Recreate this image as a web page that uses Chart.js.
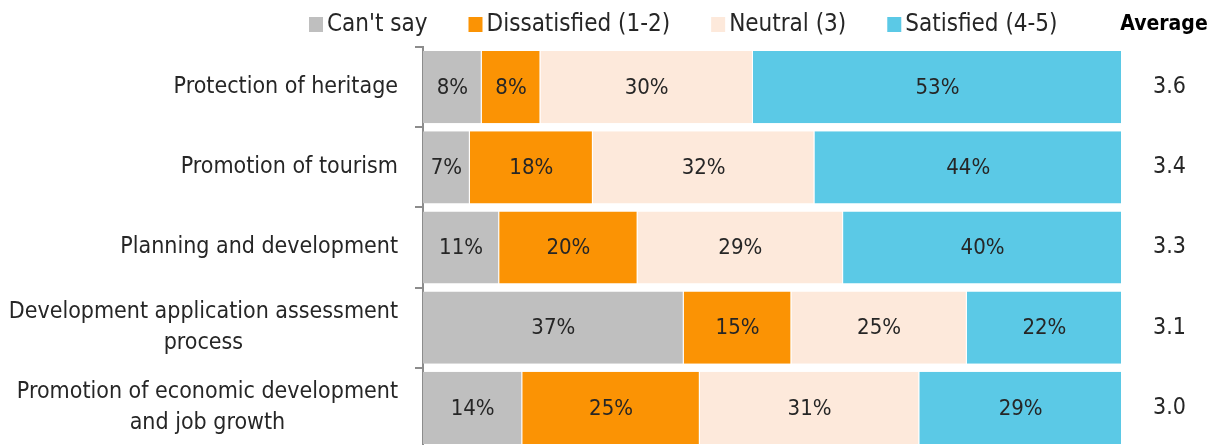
<!DOCTYPE html>
<html>
<head>
<meta charset="utf-8">
<script src="https://cdn.jsdelivr.net/npm/chart.js@4/dist/chart.umd.min.js"></script>
<style>
    html, body { margin: 0; padding: 0; background: #fff; overflow: hidden; }
    canvas { display: block; }
</style>
</head>
<body>
<canvas id="grafico" width="1227" height="448"></canvas>
<script>
const categorias = [
    "Protection of heritage",
    "Promotion of tourism",
    "Planning and development",
    ["Development application assessment", "process"],
    ["Promotion of economic development", "and job growth"]
];
const cantSay = [8.4, 6.7, 10.9, 37.3, 14.2];
const dissatisfied = [8.4, 17.6, 19.8, 15.4, 25.4];
const neutral = [30.4, 31.7, 29.4, 25.1, 31.4];
const satisfied = [52.8, 44.0, 39.9, 22.2, 29.0];
const promedios = [3.6, 3.4, 3.3, 3.1, 3.0];

const FUENTE = "'DejaVu Sans Condensed', sans-serif";
const TEXTO = "#262626";

// porcentajes, etiquetas del eje, leyenda y titulo "Average"
const extras = {
    id: "extras",
    afterDatasetsDraw(chart) {
        const ctx = chart.ctx;
        ctx.save();
        ctx.fillStyle = TEXTO;
        ctx.textBaseline = "middle";
        ctx.textAlign = "center";
        ctx.font = "22px " + FUENTE;

        chart.data.datasets.forEach((ds, i) => {
            const meta = chart.getDatasetMeta(i);
            meta.data.forEach((bar, j) => {
                const p = bar.getProps(["x", "y", "base"], true);
                ctx.fillText(Math.round(ds.data[j]) + "%", (p.x + p.base) / 2, p.y + 1);
            });
        });

        // bloque alineado a la derecha, lineas centradas
        ctx.font = "23px " + FUENTE;
        const escalaY = chart.scales.y;
        const derecha = chart.chartArea.left - 25;
        categorias.forEach((cat, j) => {
            const lineas = Array.isArray(cat) ? cat : [cat];
            const ancho = Math.max(...lineas.map(l => ctx.measureText(l).width));
            const cx = derecha - ancho / 2;
            const cy = escalaY.getPixelForValue(j);
            lineas.forEach((l, k) => {
                ctx.fillText(l, cx, cy + (k - (lineas.length - 1) / 2) * 31);
            });
        });

        ctx.font = "24px " + FUENTE;
        let x = 309;
        const ly = 25;
        ctx.textAlign = "left";
        chart.data.datasets.forEach(ds => {
            ctx.fillStyle = ds.backgroundColor;
            ctx.fillRect(x, ly - 8, 14, 15);
            ctx.fillStyle = TEXTO;
            ctx.fillText(ds.label, x + 18, ly);
            x += 18 + ctx.measureText(ds.label).width + 41;
        });

        ctx.font = "bold 21px " + FUENTE;
        ctx.textAlign = "center";
        ctx.fillStyle = "#000";
        ctx.fillText("Average", 1164, ly);
        ctx.restore();
    }
};

function sinRelleno(scale, ancho) {
    scale.width = ancho;
    scale.paddingTop = 0;
    scale.paddingBottom = 0;
}

const borde = { top: 0, bottom: 0, left: 0, right: 1 };

const ctx = document.getElementById("grafico").getContext("2d");
new Chart(ctx, {
    type: "bar",
    data: {
        labels: categorias,
        datasets: [
            { label: "Can't say", data: cantSay, backgroundColor: "#bfbfbf" },
            { label: "Dissatisfied (1-2)", data: dissatisfied, backgroundColor: "#fb9304" },
            { label: "Neutral (3)", data: neutral, backgroundColor: "#fde9db" },
            { label: "Satisfied (4-5)", data: satisfied, backgroundColor: "#5bc9e6" }
        ]
    },
    options: {
        indexAxis: "y",
        responsive: false,
        animation: false,
        barPercentage: 0.9,
        categoryPercentage: 1,
        borderColor: "rgba(255,255,255,0.6)",
        borderWidth: borde,
        borderSkipped: false,
        layout: { padding: { top: 47, right: 0, bottom: 0, left: 0 } },
        plugins: {
            legend: { display: false },
            tooltip: { enabled: false }
        },
        scales: {
            x: {
                stacked: true,
                min: 0,
                max: 100,
                display: false
            },
            y: {
                stacked: true,
                offset: true,
                ticks: { display: false },
                grid: {
                    offset: true,
                    drawOnChartArea: false,
                    drawTicks: true,
                    tickLength: 8,
                    color: "#8c8c8c",
                    lineWidth: 2
                },
                border: { display: true, color: "#8c8c8c", width: 2 },
                afterFit(scale) { sinRelleno(scale, 423); }
            },
            y2: {
                type: "category",
                position: "right",
                offset: true,
                labels: promedios.map(v => v.toFixed(1)),
                grid: { display: false, drawTicks: false },
                border: { display: false },
                ticks: {
                    padding: 31,
                    color: TEXTO,
                    font: { family: FUENTE, size: 23 }
                },
                afterFit(scale) { sinRelleno(scale, 105); }
            }
        }
    },
    plugins: [extras]
});
</script>
</body>
</html>
